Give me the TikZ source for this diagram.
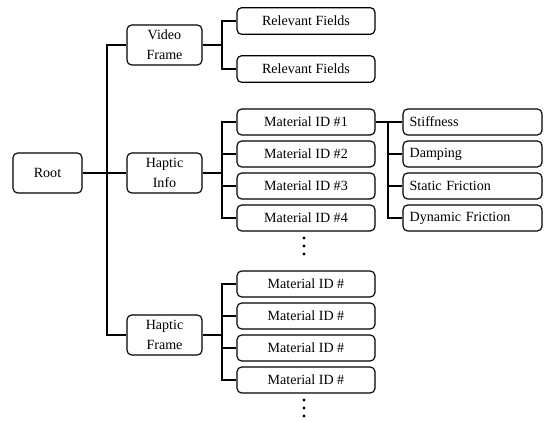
\documentclass[tikz,border=0pt]{standalone}
\usepackage{fontspec}
\setmainfont{Liberation Serif}
\usetikzlibrary{positioning}

\tikzset{
  box/.style={draw, line width=1pt, rounded corners=4pt, inner sep=2pt,
    font=\fontsize{12}{17}\selectfont},
  bigbox/.style={box, align=center, minimum width=2.25cm, minimum height=1.2cm},
  fieldbox/.style={box, align=center, minimum width=4.14cm, minimum height=0.8cm},
  matbox/.style={box, align=center, minimum width=4.14cm, minimum height=0.78cm},
  propbox/.style={box, inner xsep=0.2cm, text width=3.77cm, align=left, minimum height=0.78cm},
  wire/.style={line width=1pt}
}

\begin{document}
\begin{tikzpicture}[x=0.03cm,y=-0.03cm]
  \useasboundingbox (0,0) rectangle (550,422);
  % level 0 and 1
  \node[bigbox, minimum width=2.07cm] (root) at (47.5,173) {Root};
  \node[bigbox] (video) at (164.5,45) {Video\\Frame};
  \node[bigbox] (info) at (164.5,173) {Haptic\\Info};
  \node[bigbox] (frame) at (164.5,335) {Haptic\\Frame};
  % level 2
  \node[fieldbox] (rf1) at (306,21) {Relevant Fields};
  \node[fieldbox] (rf2) at (306,69) {Relevant Fields};
  \foreach \i/\y in {1/122,2/154,3/186,4/218}
    \node[matbox] (mat\i) at (306,\y) {Material ID \#\i};
  \foreach \i/\y in {1/284,2/316,3/348,4/380}
    \node[matbox] (fmat\i) at (306,\y) {Material ID \#};
  % level 3
  \foreach \i/\y/\name in {1/122/Stiffness,2/154/Damping,3/186/Static Friction,4/218/Dynamic Friction}
    \node[propbox] (prop\i) at (472.5,\y) {\name};

  % connectors
  \coordinate (trunk) at (107,173);
  \coordinate (vbus) at (222,45);
  \coordinate (ibus) at (222,173);
  \coordinate (fbus) at (222,335);
  \coordinate (pbus) at (388,122);
  \draw[wire] (root.east) -- (trunk);
  \foreach \c in {video,info,frame}
    \draw[wire] (trunk) |- (\c.west);
  \draw[wire] (video.east) -- (vbus);
  \foreach \c in {rf1,rf2}
    \draw[wire] (vbus) |- (\c.west);
  \draw[wire] (info.east) -- (ibus);
  \draw[wire] (frame.east) -- (fbus);
  \foreach \i in {1,...,4} {
    \draw[wire] (ibus) |- (mat\i.west);
    \draw[wire] (fbus) |- (fmat\i.west);
    \draw[wire] (pbus) |- (prop\i.west);
  }
  \draw[wire] (mat1.east) -- (pbus);

  % dots
  \foreach \y in {238,246,254,400,408,416}
    \fill (304,\y) circle (1.3pt);
\end{tikzpicture}
\end{document}
